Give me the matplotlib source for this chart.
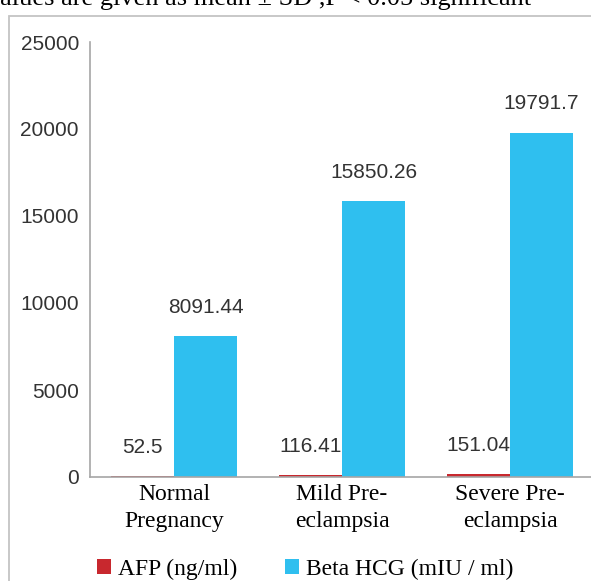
import numpy as np
import matplotlib
matplotlib.use("Agg")
import matplotlib.pyplot as plt
from matplotlib.patches import Rectangle

# data
groups = ["Normal\nPregnancy", "Mild Pre-\neclampsia", "Severe Pre-\neclampsia"]
afp = [52.5, 116.41, 151.04]
beta_hcg = [8091.44, 15850.26, 19791.7]
afp_labels = ["52.5", "116.41", "151.04"]
hcg_labels = ["8091.44", "15850.26", "19791.7"]
y_ticks = [0, 5000, 10000, 15000, 20000, 25000]

red = "#C8282E"
blue = "#2FBFEF"

fig = plt.figure(figsize=(5.91, 5.81), dpi=100)

# outer chart frame (cut off on the right and bottom)
fig.patches.append(Rectangle((9 / 591, -0.1), 1.2, 1 - 16 / 581 + 0.1,
                             transform=fig.transFigure, fill=False,
                             edgecolor="#c4c4c4", linewidth=1.3))

# caption line cut off at the top of the scan
fig.text(-16 / 591, 1 - 5 / 581, "Values are given as mean \u00b1 SD ,P < 0.05 significant",
         family="Liberation Serif", fontsize=19, va="baseline", ha="left")

ax = fig.add_axes([90 / 591, 104 / 581, 504 / 591, 435 / 581])

x = np.arange(len(groups)) + 0.5
w = 0.375
b1 = ax.bar(x - w / 2, afp, w, color=red, label="AFP (ng/ml)")
b2 = ax.bar(x + w / 2, beta_hcg, w, color=blue, label="Beta HCG (mIU / ml)")

for rect, lab in zip(b1, afp_labels):
    ax.annotate(lab, (rect.get_x() + rect.get_width() / 2, rect.get_height()),
                xytext=(0, 14), textcoords="offset points", ha="center", va="bottom",
                family="Liberation Sans", fontsize=15, color="#333333")
for rect, lab in zip(b2, hcg_labels):
    ax.annotate(lab, (rect.get_x() + rect.get_width() / 2, rect.get_height()),
                xytext=(0, 14), textcoords="offset points", ha="center", va="bottom",
                family="Liberation Sans", fontsize=15, color="#333333")

ax.set_xlim(0, 3)
ax.set_ylim(0, 25000)
ax.set_yticks(y_ticks)
ax.set_yticklabels([str(t) for t in y_ticks], family="Liberation Sans", fontsize=15, color="#333333")
ax.set_xticks(x)
ax.set_xticklabels(groups, family="Liberation Serif", fontsize=17, linespacing=1.35)
ax.tick_params(axis="both", length=0)
ax.tick_params(axis="y", pad=8)
ax.tick_params(axis="x", pad=5)

for s in ["top", "right"]:
    ax.spines[s].set_visible(False)
for s in ["left", "bottom"]:
    ax.spines[s].set_color("#a6a6a6")
    ax.spines[s].set_linewidth(1.2)

fig.legend(handles=[b1, b2], loc="center", bbox_to_anchor=(305 / 591, 12 / 581), ncol=2,
           frameon=False, prop={"family": "Liberation Serif", "size": 17},
           handlelength=0.6, handleheight=0.6, handletextpad=0.3, columnspacing=2.0)

fig.savefig("out.png", dpi=100)
